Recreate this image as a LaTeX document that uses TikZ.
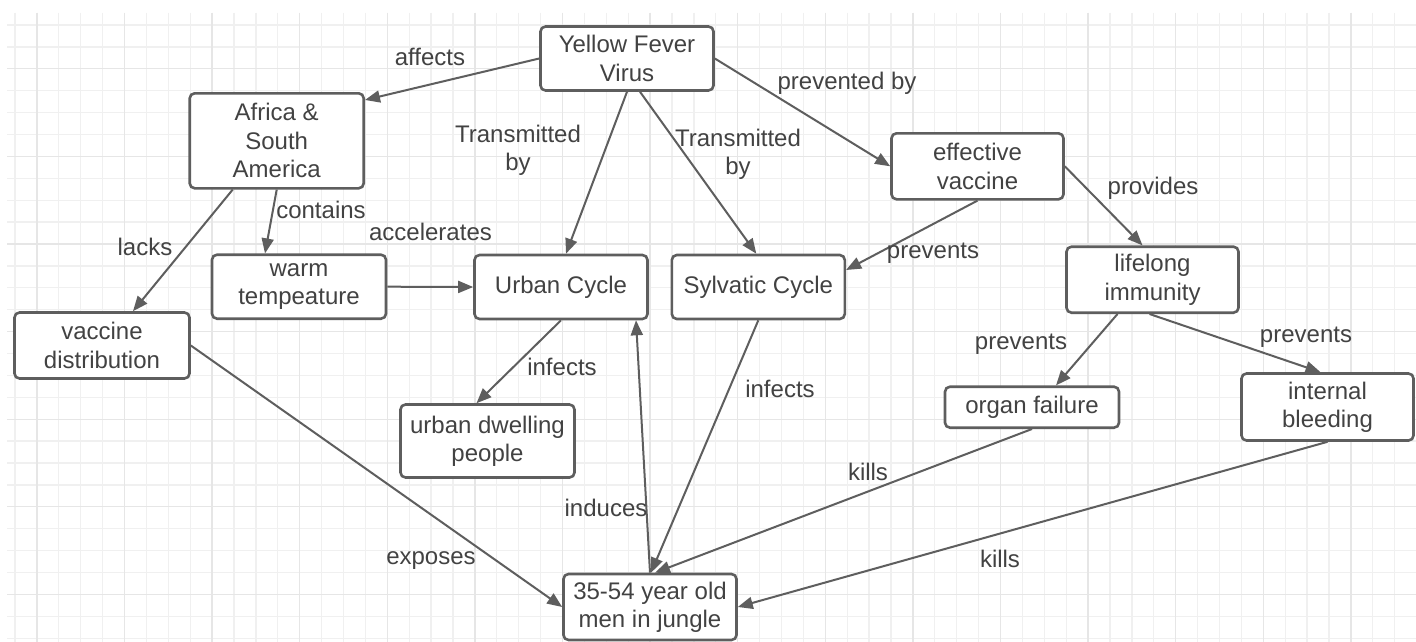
\documentclass[tikz,border=0pt]{standalone}
\usepackage{fontspec}
\setmainfont{Liberation Sans}
\usetikzlibrary{arrows.meta}
\definecolor{gridminor}{HTML}{F0F0F0}
\definecolor{gridmajor}{HTML}{E6E6E6}
\definecolor{boxc}{HTML}{5E5E5E}
\definecolor{txt}{HTML}{424242}
\begin{document}
\begin{tikzpicture}[x=1pt,y=-1pt,
  box/.style={draw=boxc, line width=2.6pt, rounded corners=5pt, fill=white, text=txt, align=center, inner sep=0pt, font=\fontsize{24}{28.4}\selectfont},
  lbl/.style={text=txt, align=center, inner sep=0pt, font=\fontsize{24}{28.4}\selectfont},
  conn/.style={draw=boxc, line width=2pt, -{Triangle[length=15pt,width=12pt]}},
  gmin/.style={draw=gridminor, line width=1.3pt},
  gmaj/.style={draw=gridmajor, line width=1.3pt}]

\fill[white] (0,0) rectangle (1416,642);
\useasboundingbox (0,0) rectangle (1416,642);

% grid
\foreach \k in {0,...,63} \draw[gmin] ({15+21.9*\k},13) -- ({15+21.9*\k},642);
\foreach \k in {0,...,28} \draw[gmin] (7,{25+21.9*\k}) -- (1416,{25+21.9*\k});
\foreach \k in {1,5,...,61} \draw[gmaj] ({15+21.9*\k},13) -- ({15+21.9*\k},642);
\foreach \k in {2,6,...,26} \draw[gmaj] (7,{25+21.9*\k}) -- (1416,{25+21.9*\k});

% nodes
\node[box, minimum width=173pt, minimum height=64pt] (yfv) at (627,58.5) {Yellow Fever\\Virus};
\node[box, minimum width=174pt, minimum height=95pt] (africa) at (276.7,140.8) {Africa \&\\South\\America};
\node[box, minimum width=175pt, minimum height=66pt] (vdist) at (102,345.5) {vaccine\\distribution};
\node[box, minimum width=174pt, minimum height=64pt] (warm) at (299,286.7) {warm\\tempeature};
\node[box, minimum width=173pt, minimum height=64pt] (urban) at (561,287) {Urban Cycle};
\node[box, minimum width=173pt, minimum height=64pt] (sylv) at (758.3,287) {Sylvatic Cycle};
\node[box, minimum width=174pt, minimum height=73pt] (udp) at (487.5,441) {urban dwelling\\people};
\node[box, minimum width=173pt, minimum height=66pt] (men) at (650,607) {35-54 year old\\men in jungle};
\node[box, minimum width=172pt, minimum height=66pt] (effvac) at (977.5,166.3) {effective\\vaccine};
\node[box, minimum width=172pt, minimum height=66pt] (life) at (1152.5,279.7) {lifelong\\immunity};
\node[box, minimum width=174pt, minimum height=41pt] (organ) at (1032,407.2) {organ failure};
\node[box, minimum width=172pt, minimum height=67pt] (intb) at (1327.5,407) {internal\\bleeding};

% connectors
\draw[conn] (yfv.west) -- ([yshift=-8pt]africa.north east);
\draw[conn] (yfv.south) -- ([xshift=5pt]urban.north);
\draw[conn] ([xshift=13pt]yfv.south) -- ([xshift=-2pt]sylv.north);
\draw[conn] (yfv.east) -- (effvac.west);
\draw[conn] ([xshift=-44pt]africa.south) -- ([xshift=31pt]vdist.north);
\draw[conn] (africa.south) -- ([xshift=-34pt]warm.north);
\draw[conn] (warm.east) -- (urban.west);
\draw[conn] (effvac.south) -- ([yshift=17pt]sylv.east);
\draw[conn] (effvac.east) -- ([xshift=-10pt]life.north);
\draw[conn] (urban.south) -- ([xshift=-11pt]udp.north);
\draw[conn] (sylv.south) -- ([xshift=1pt]men.north);
\draw[conn] (men.north) -- ([xshift=75pt]urban.south);
\draw[conn] (vdist.east) -- (men.west);
\draw[conn] ([xshift=-35pt]life.south) -- ([xshift=24pt]organ.north);
\draw[conn] ([xshift=-3pt]life.south) -- ([xshift=-7pt]intb.north);
\draw[conn] (organ.south) -- ([xshift=5pt]men.north);
\draw[conn] (intb.south) -- (men.east);

% labels
\node[lbl] (l1) at (430,57) {affects};
\node[lbl] (l2) at (518,150) {Transmitted\\by};
\node[lbl] (l3) at (738,154) {Transmitted\\by};
\node[lbl] (l4) at (847,83) {prevented by};
\node[lbl] (l5) at (145,247) {lacks};
\node[lbl] (l6) at (321,210) {contains};
\node[lbl] (l7) at (430.5,232) {accelerates};
\node[lbl] (l8) at (933,253) {prevents};
\node[lbl] (l9) at (1153,188) {provides};
\node[lbl] (l10) at (562,367) {infects};
\node[lbl] (l11) at (780,389) {infects};
\node[lbl] (l12) at (606,508) {induces};
\node[lbl] (l13) at (431,561) {exposes};
\node[lbl] (l14) at (1021,344) {prevents};
\node[lbl] (l15) at (1306,337) {prevents};
\node[lbl] (l16) at (868,472) {kills};
\node[lbl] (l17) at (1000,559) {kills};
\end{tikzpicture}
\end{document}
